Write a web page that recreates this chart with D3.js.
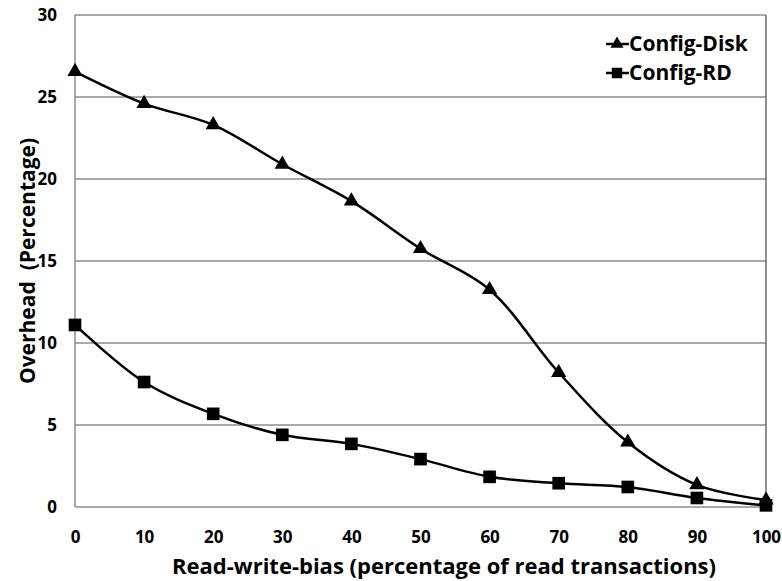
<!DOCTYPE html>
<html><head><meta charset="utf-8">
<script src="https://cdn.jsdelivr.net/npm/d3@7"></script>
<style>body{margin:0;background:#fff}svg{display:block}text{font-family:"Open Sans",sans-serif;font-weight:bold;fill:#000;white-space:pre}</style>
</head><body><svg id="c" width="782" height="581"></svg>
<script>
const xValues = [0,10,20,30,40,50,60,70,80,90,100];
const diskValues = [26.55,24.6,23.3,20.9,18.65,15.75,13.25,8.2,3.95,1.35,0.42];
const rdValues = [11.1,7.62,5.68,4.4,3.85,2.92,1.84,1.45,1.22,0.55,0.1];
const yTicks = [0,5,10,15,20,25,30];
const seriesNames = ["Config-Disk","Config-RD"];
const xTitle = "Read-write-bias (percentage of read transactions)";
const yTitle = "Overhead  (Percentage)";

const svg = d3.select("#c");
const L=75, R=766, T=15, B=507;
const x = d3.scaleLinear().domain([0,100]).range([L,R]);
const y = d3.scaleLinear().domain([0,30]).range([B,T]);

// gridlines
svg.append("g").selectAll("line").data(yTicks).join("line")
  .attr("x1",L).attr("x2",R).attr("y1",d=>y(d)).attr("y2",d=>y(d))
  .attr("stroke","#8c8c8c").attr("stroke-width",1.5);
// left / right border
svg.append("line").attr("x1",L).attr("x2",L).attr("y1",T).attr("y2",B).attr("stroke","#8c8c8c").attr("stroke-width",1.5);
svg.append("line").attr("x1",R).attr("x2",R).attr("y1",T).attr("y2",B).attr("stroke","#6a6a6a").attr("stroke-width",1.5);

// axes
const yAxis = d3.axisLeft(y).tickValues(yTicks).tickSize(0).tickPadding(0);
const gy = svg.append("g").attr("transform",`translate(${L-18},0)`).call(yAxis);
gy.select(".domain").remove();
gy.selectAll("text").style("font-size","17px").attr("dy","0.35em").style("font-family","'Open Sans',sans-serif").style("font-weight","bold");

const xAxis = d3.axisBottom(x).tickValues(xValues).tickSize(0).tickPadding(0);
const gx = svg.append("g").attr("transform",`translate(0,${B+24})`).call(xAxis);
gx.select(".domain").remove();
gx.selectAll("text").style("font-size","17px").attr("dy","0.71em").style("font-family","'Open Sans',sans-serif").style("font-weight","bold");

// titles
svg.append("text").attr("x",444).attr("y",574).attr("text-anchor","middle")
  .style("font-size","22px").text(xTitle);
svg.append("text").attr("transform",`translate(28,${(T+B)/2}) rotate(-90)`).attr("text-anchor","middle")
  .attr("dy","0.35em").style("font-size","21px").text(yTitle);

// lines
const line = d3.line().x((d,i)=>x(xValues[i])).y(d=>y(d)).curve(d3.curveCatmullRom.alpha(0.5));
[diskValues, rdValues].forEach(vals=>{
  svg.append("path").attr("d",line(vals)).attr("fill","none").attr("stroke","#000").attr("stroke-width",2.5);
});
const tri = d3.symbol().type(d3.symbolTriangle).size(100);
const sq = d3.symbol().type(d3.symbolSquare).size(160);
svg.append("g").selectAll("path").data(diskValues).join("path")
  .attr("d",tri()).attr("transform",(d,i)=>`translate(${x(xValues[i])},${y(d)})`).attr("fill","#000");
svg.append("g").selectAll("path").data(rdValues).join("path")
  .attr("d",sq()).attr("transform",(d,i)=>`translate(${x(xValues[i])},${y(d)})`).attr("fill","#000");

// legend
const lg = svg.append("g");
const legY = [44,73];
seriesNames.forEach((n,i)=>{
  lg.append("line").attr("x1",606).attr("x2",629).attr("y1",legY[i]).attr("y2",legY[i]).attr("stroke","#000").attr("stroke-width",2.5);
  lg.append("path").attr("d",(i===0?d3.symbol().type(d3.symbolTriangle).size(75):d3.symbol().type(d3.symbolSquare).size(110))())
    .attr("transform",`translate(617,${legY[i]})`).attr("fill","#000");
  lg.append("text").attr("x",629).attr("y",legY[i]).attr("dy","0.35em").style("font-size","21px").text(n);
});
</script></body></html>
